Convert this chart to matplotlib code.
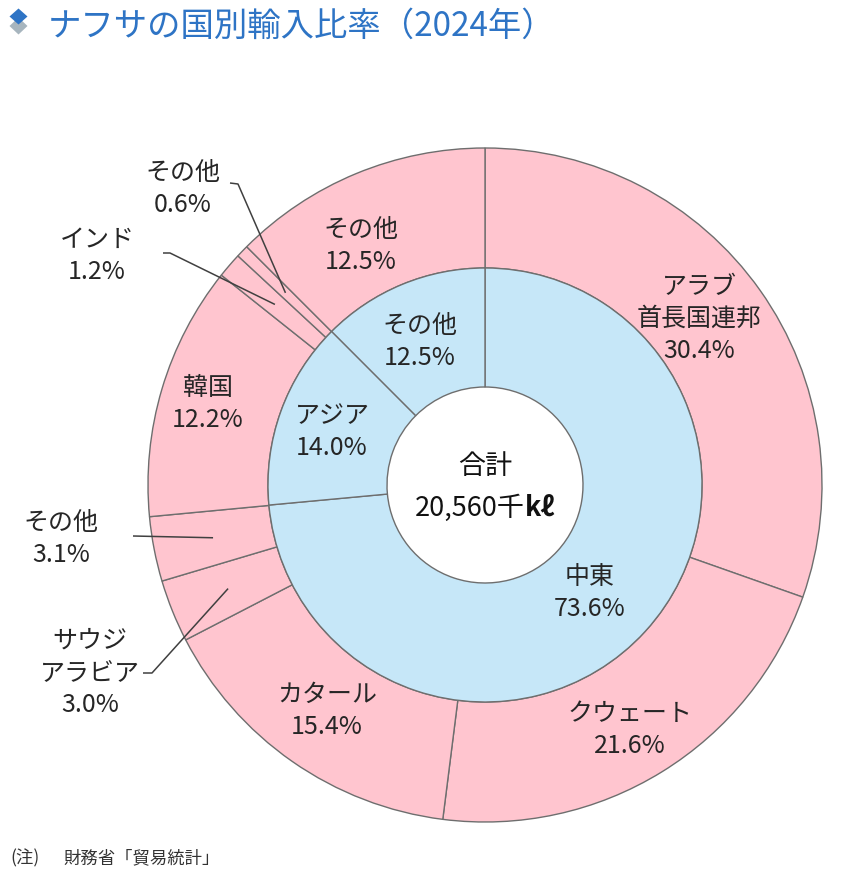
import matplotlib
matplotlib.use('Agg')
import numpy as np
import matplotlib.pyplot as plt
from matplotlib.patches import Polygon

plt.rcParams['font.family'] = ['Noto Sans CJK JP', 'DejaVu Sans']

# ---------------- data ----------------
title = 'ナフサの国別輸入比率（2024年）'
outer_labels = ['アラブ\n首長国連邦', 'クウェート', 'カタール', 'サウジ\nアラビア', 'その他',
                '韓国', 'インド', 'その他', 'その他']
outer_values = [30.4, 21.6, 15.4, 3.0, 3.1, 12.2, 1.2, 0.6, 12.5]
inner_labels = ['中東', 'アジア', 'その他']
inner_values = [73.6, 14.0, 12.5]
total_title = '合計'
total_number = '20,560千'
total_unit = 'kℓ'
note_head = '(注)'
note_text = '財務省「貿易統計」'

# ---------------- layout ----------------
W, H = 850, 887
CX, CY = 485, 486          # pie centre in pixels (top-left origin)
R_OUT, R_MID, R_HOLE = 337, 217, 98
PINK = '#FFC5CF'
BLUE = '#C6E7F8'
EDGE = '#6E6E6E'
TXT = '#262626'
TITLE_BLUE = '#2E74C5'

def Y(y):
    return H - y

fig = plt.figure(figsize=(W / 100, H / 100), dpi=100)
ax = fig.add_axes([0, 0, 1, 1])

wp = dict(edgecolor=EDGE, linewidth=1.0)
ax.pie(outer_values, radius=R_OUT, center=(CX, Y(CY)), startangle=90, counterclock=False,
       colors=[PINK] * len(outer_values), frame=True,
       wedgeprops=dict(width=R_OUT - R_MID, **wp))
ax.pie(inner_values, radius=R_MID, center=(CX, Y(CY)), startangle=90, counterclock=False,
       colors=[BLUE] * len(inner_values), frame=True,
       wedgeprops=dict(width=R_MID - R_HOLE, **wp))
ax.set_xlim(0, W)
ax.set_ylim(0, H)
ax.set_aspect('auto')
ax.axis('off')

FS = 18
LS = 32  # pixel line spacing

def block(x, y, lines, fs=FS):
    for i, s in enumerate(lines):
        ax.text(x, Y(y + i * LS), s, ha='center', va='center', fontsize=fs, color=TXT)

# outer label positions (pixel x, first-line y)
outer_pos = [(699, 287), (630, 714), (327, 695), (90, 641), (61, 523),
             (208, 388), (97, 240), (183, 173), (361, 230)]
for lab, v, (x, y) in zip(outer_labels, outer_values, outer_pos):
    block(x, y, lab.split('\n') + [f'{v:.1f}%'])

inner_pos = [(590, 577), (332, 416), (420, 326)]
for lab, v, (x, y) in zip(inner_labels, inner_values, inner_pos):
    block(x, y, [lab, f'{v:.1f}%'])

# leader lines: from label side to wedge mid angle at 0.822*R_OUT
cum = np.cumsum([0] + outer_values)
total = cum[-1]
def mid_point(i, r=0.822 * R_OUT):
    frac = (cum[i] + cum[i + 1]) / 2 / total
    ang = np.deg2rad(90 - 360 * frac)
    return CX + r * np.cos(ang), Y(CY) + r * np.sin(ang)

leaders = {3: [(143, 674), (152, 674)],
           4: [(133, 537)],
           6: [(163, 254), (170, 254)],
           7: [(230, 184), (238, 185)]}
for i, pts in leaders.items():
    xs = [p[0] for p in pts]
    ys = [Y(p[1]) for p in pts]
    ex, ey = mid_point(i)
    xs.append(ex); ys.append(ey)
    ax.plot(xs, ys, color='#404040', lw=1.1, solid_capstyle='butt')

# centre text
ax.text(CX, Y(467), total_title, ha='center', va='center', fontsize=19.5, color='#111111')
t1 = ax.text(0, Y(508), total_number, ha='left', va='center', fontsize=19.5, color='#111111')
t2 = ax.text(0, Y(508), total_unit, ha='left', va='center', fontsize=19.5, color='#111111',
             fontweight='bold')
fig.canvas.draw()
r = fig.canvas.get_renderer()
w1 = t1.get_window_extent(r).width
w2 = t2.get_window_extent(r).width
x0 = CX - (w1 + w2) / 2
t1.set_x(x0)
t2.set_x(x0 + w1)

# title with diamond icon
ax.add_patch(Polygon([(9.5, Y(27)), (18.5, Y(18.5)), (27.5, Y(27)), (18.5, Y(35.5))],
                     closed=True, facecolor='#A7B5BE', edgecolor='none'))
ax.add_patch(Polygon([(9.5, Y(17.5)), (18.5, Y(9.5)), (27.5, Y(17.5)), (18.5, Y(25.5))],
                     closed=True, facecolor=TITLE_BLUE, edgecolor='none'))
ax.text(48, Y(26), title, ha='left', va='center', fontsize=24, color=TITLE_BLUE)

# footnote
ax.text(10, Y(858), note_head, ha='left', va='center', fontsize=12.5, color='#333333')
ax.text(63, Y(858), note_text, ha='left', va='center', fontsize=12.5, color='#333333')

fig.savefig('out.png', dpi=100, facecolor='white')
